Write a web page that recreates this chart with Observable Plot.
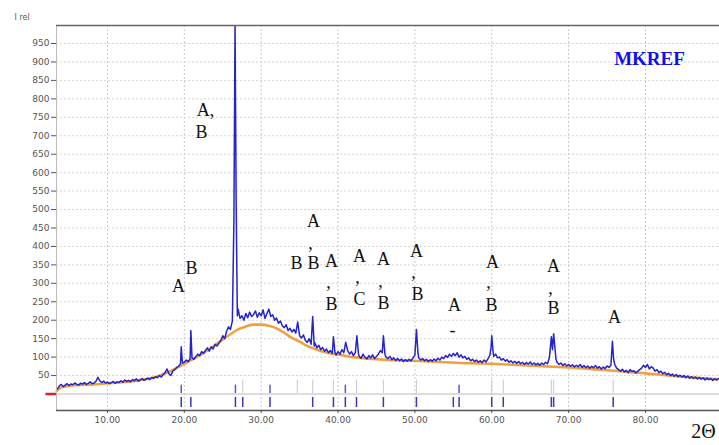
<!DOCTYPE html>
<html>
<head>
<meta charset="utf-8">
<script src="https://cdn.jsdelivr.net/npm/d3@7"></script>
<script src="https://cdn.jsdelivr.net/npm/@observablehq/plot@0.6"></script>
<style>
  body { margin: 0; background: #fff; }
  #chart svg { display: block; }
</style>
</head>
<body>
<div id="chart"></div>
<script>
const obsTwoTheta = [
  3.5,3.75,4,4.25,4.5,4.75,5,5.25,5.5,5.75,
  6,6.25,6.5,6.75,7,7.25,7.5,7.75,8,8.25,
  8.5,8.75,9,9.25,9.5,9.75,10,10.25,10.5,10.75,
  11,11.25,11.5,11.75,12,12.25,12.5,12.75,13,13.25,
  13.5,13.75,14,14.25,14.5,14.75,15,15.25,15.5,15.75,
  16,16.25,16.5,16.75,17,17.25,17.5,17.75,18,18.25,
  18.5,18.75,19,19.25,19.5,19.6,19.75,20,20.25,20.5,
  20.75,20.85,21,21.25,21.5,21.75,22,22.25,22.5,22.75,
  23,23.25,23.5,23.75,24,24.25,24.5,24.75,25,25.25,
  25.5,25.75,26,26.25,26.45,26.6,26.75,26.9,27,27.25,
  27.5,27.75,28,28.25,28.5,28.75,29,29.25,29.5,29.75,
  30,30.25,30.5,30.75,31,31.25,31.5,31.75,32,32.25,
  32.5,32.75,33,33.25,33.5,33.75,34,34.25,34.5,34.75,
  35,35.25,35.5,35.75,36,36.25,36.5,36.7,36.9,37,
  37.25,37.5,37.75,38,38.25,38.5,38.75,39,39.25,39.4,
  39.6,39.75,40,40.25,40.5,40.75,41,41.25,41.5,41.75,
  42,42.25,42.45,42.65,42.75,43,43.25,43.5,43.75,44,
  44.25,44.5,44.75,45,45.25,45.5,45.75,45.9,46.1,46.25,
  46.5,46.75,47,47.25,47.5,47.75,48,48.25,48.5,48.75,
  49,49.25,49.5,49.75,50,50.2,50.4,50.5,50.75,51,
  51.25,51.5,51.75,52,52.25,52.5,52.75,53,53.25,53.5,
  53.75,54,54.25,54.5,54.75,55,55.25,55.5,55.75,56,
  56.25,56.5,56.75,57,57.25,57.5,57.75,58,58.25,58.5,
  58.75,59,59.25,59.5,59.75,59.9,60,60.15,60.25,60.5,
  60.75,61,61.25,61.5,61.75,62,62.25,62.5,62.75,63,
  63.25,63.5,63.75,64,64.25,64.5,64.75,65,65.25,65.5,
  65.75,66,66.25,66.5,66.75,67,67.25,67.5,67.75,67.9,
  68.05,68.2,68.35,68.5,68.75,69,69.25,69.5,69.75,70,
  70.25,70.5,70.75,71,71.25,71.5,71.75,72,72.25,72.5,
  72.75,73,73.25,73.5,73.75,74,74.25,74.5,74.75,75,
  75.25,75.5,75.7,75.85,76,76.25,76.5,76.75,77,77.25,
  77.5,77.75,78,78.25,78.5,78.75,79,79.25,79.5,79.75,
  80,80.25,80.5,80.75,81,81.25,81.5,81.75,82,82.25,
  82.5,82.75,83,83.25,83.5,83.75,84,84.25,84.5,84.75,
  85,85.25,85.5,85.75,86,86.25,86.5,86.75,87,87.25,
  87.5,87.75,88,88.25,88.5,88.75,89,89.25,89.5
];
const obsIntensity = [
  14,22,26,20,24,28,23,27,25,30,
  26,24,29,27,31,26,29,33,28,30,
  34,45,36,31,35,30,32,28,31,34,
  29,33,31,36,32,38,34,37,33,39,
  36,41,35,38,42,37,40,43,39,45,
  42,47,44,50,46,53,58,68,55,50,
  62,66,72,75,82,128,84,86,92,88,
  95,172,98,94,102,108,104,115,110,118,
  125,116,128,122,135,130,138,145,158,150,
  170,182,175,198,465,1000,505,212,230,205,
  212,200,218,207,222,210,215,225,208,220,
  212,228,205,218,230,210,215,200,206,192,
  198,185,180,188,172,178,168,175,165,195,
  158,152,160,145,140,150,135,210,130,138,
  125,132,120,126,116,122,112,118,110,155,
  112,106,115,108,120,112,140,118,108,115,
  104,112,158,110,102,97,108,100,95,104,
  98,106,96,102,108,118,112,158,108,100,
  96,102,93,98,91,96,90,95,88,93,
  89,94,90,98,105,175,110,98,92,96,
  90,94,88,93,89,95,90,97,92,100,
  96,104,99,108,102,110,104,112,100,106,
  98,102,94,98,90,94,88,92,86,90,
  85,92,87,95,105,125,158,120,102,108,
  98,100,92,96,89,93,86,90,84,89,
  83,88,82,86,80,85,81,87,80,84,
  79,83,78,84,80,86,82,98,155,120,
  163,130,95,86,80,84,77,82,76,80,
  75,79,73,78,74,80,72,77,71,76,
  70,75,71,77,70,74,68,73,69,76,
  72,78,143,95,80,70,66,62,67,60,
  64,58,66,61,63,57,62,66,70,78,
  72,80,68,74,70,62,66,58,62,55,
  59,52,56,50,54,48,53,47,51,46,
  50,44,49,43,47,42,46,41,45,40,
  44,38,43,39,42,37,41,38,42
];

// Calculated profile
const calcTwoTheta = [3.4,4,5,6,8,10,12,14,16,18,19,20,21,22,23,24,25,26,27,28,29,30,31,32,33,34,35,36,37,38,39,40,42,44,46,48,50,52,54,56,58,60,62,64,66,68,70,72,74,76,78,80,82,84,86,88,89.6];
const calcIntensity = [8,18,22,24,26,29,32,37,45,60,70,82,93,105,118,132,148,162,175,183,188,188,185,178,166,152,142,130,122,115,110,107,100,96,93,91,90,88,86,84,83,82,80,78,76,74,72,69,66,63,59,56,52,48,45,42,40];

// Reflection markers
const refLower = [19.6,20.85,26.65,27.6,31.15,36.7,39.4,40.95,42.4,45.9,50.2,55.0,55.75,60.0,61.5,67.75,68.05,75.8];
const refUpperBlue = [19.6,26.65,31.15,40.95,55.75];
const refUpperLight = [27.6,34.7,36.7,39.4,42.4,45.9,50.2,60.0,61.5,67.75,68.05,75.8];

// Peak annotations
const labelText = ["A,","B","B","A","A","B",",","B","A",",","B","A",",","C","A",",","B","A",",","B","A","-","A",",","B","A",",","B","A"];
const labelX = [22.75,22.23,20.93,19.24,36.8,34.59,36.41,36.8,39.14,38.75,39.14,42.79,42.53,42.79,45.91,45.52,45.91,50.2,49.81,50.33,55.15,54.9,60.09,59.57,59.96,68.03,67.64,68.03,75.96];
const labelY = [768,709,340,291,467,354,410,354,359,302,243,373,316,256,365,305,245,386,329,270,240,172,356,302,240,346,288,232,207];

const xTicks = [10,20,30,40,50,60,70,80];
const yTicks = [50,100,150,200,250,300,350,400,450,500,550,600,650,700,750,800,850,900,950];
const xDomain = [3.37, 89.63];
const yDomain = [-44.7, 998.8];

const obs = obsTwoTheta.map((x, i) => ({x, y: obsIntensity[i]}));
const calc = calcTwoTheta.map((x, i) => ({x, y: calcIntensity[i]}));
const labels = labelText.map((t, i) => ({t, x: labelX[i], y: labelY[i]}));

const chart = Plot.plot({
  width: 719,
  height: 445,
  marginLeft: 56,
  marginTop: 25,
  marginRight: 0,
  marginBottom: 35,
  style: {background: "#fff", fontFamily: "'DejaVu Sans', sans-serif"},
  x: {domain: xDomain},
  y: {domain: yDomain},
  marks: [
    Plot.gridX(xTicks, {stroke: "#c8c8c8", strokeOpacity: 1, strokeDasharray: "2,2"}),
    Plot.gridY(yTicks, {stroke: "#d4d4d4", strokeOpacity: 1, strokeDasharray: "2,2"}),
    Plot.ruleY([0], {stroke: "#bbbbbb", strokeWidth: 1.2}),
    Plot.ruleY([0], {x1: 2.0, x2: xDomain[0], stroke: "#dd2222", strokeWidth: 2.5, clip: false}),
    Plot.ruleX(refLower, {y1: -9.5, y2: -36.5, stroke: "#3a3ab0", strokeWidth: 1.5}),
    Plot.ruleX(refUpperLight, {y1: 1.5, y2: 38, stroke: "#c8c8d8", strokeWidth: 1}),
    Plot.ruleX(refUpperBlue, {y1: 1.5, y2: 24, stroke: "#5a5ac8", strokeWidth: 1.5}),
    Plot.line(calc, {x: "x", y: "y", stroke: "#f0a040", strokeWidth: 2.6, curve: "monotone-x"}),
    Plot.line(obs, {x: "x", y: "y", stroke: "#2424c8", strokeWidth: 1.5, clip: true}),
    Plot.ruleX([xDomain[0]], {stroke: "#bbbbbb", strokeWidth: 1}),
    Plot.ruleY([yDomain[1]], {stroke: "#666666", strokeWidth: 1.5}),
    Plot.ruleY([yDomain[0]], {stroke: "#555555", strokeWidth: 1.5}),
    Plot.axisY(yTicks, {tickSize: 5, tickPadding: 2, fontSize: 9, color: "#555", label: null}),
    Plot.axisX(xTicks, {tickSize: 3, tickPadding: 3, fontSize: 9, color: "#555", tickFormat: d3.format(".2f"), label: null}),
    Plot.text(labels, {x: "x", y: "y", text: "t", fontSize: 18, fontFamily: "'Liberation Serif', serif", fill: "#111"}),
    Plot.text(["I rel"], {frameAnchor: "top-left", dx: -42, dy: -11, textAnchor: "start", fontSize: 8, fill: "#555"}),
    Plot.text(["MKREF"], {frameAnchor: "top-right", dx: -70, dy: 26, textAnchor: "middle", fontSize: 19, fontWeight: "bold", fontFamily: "'Liberation Serif', serif", fill: "#1010ee"}),
    Plot.text(["2Θ"], {frameAnchor: "bottom-right", dx: -16, dy: 27, textAnchor: "middle", fontSize: 20, fontFamily: "'Liberation Serif', serif", fill: "#111"})
  ]
});
document.getElementById("chart").appendChild(chart);
</script>
</body>
</html>
